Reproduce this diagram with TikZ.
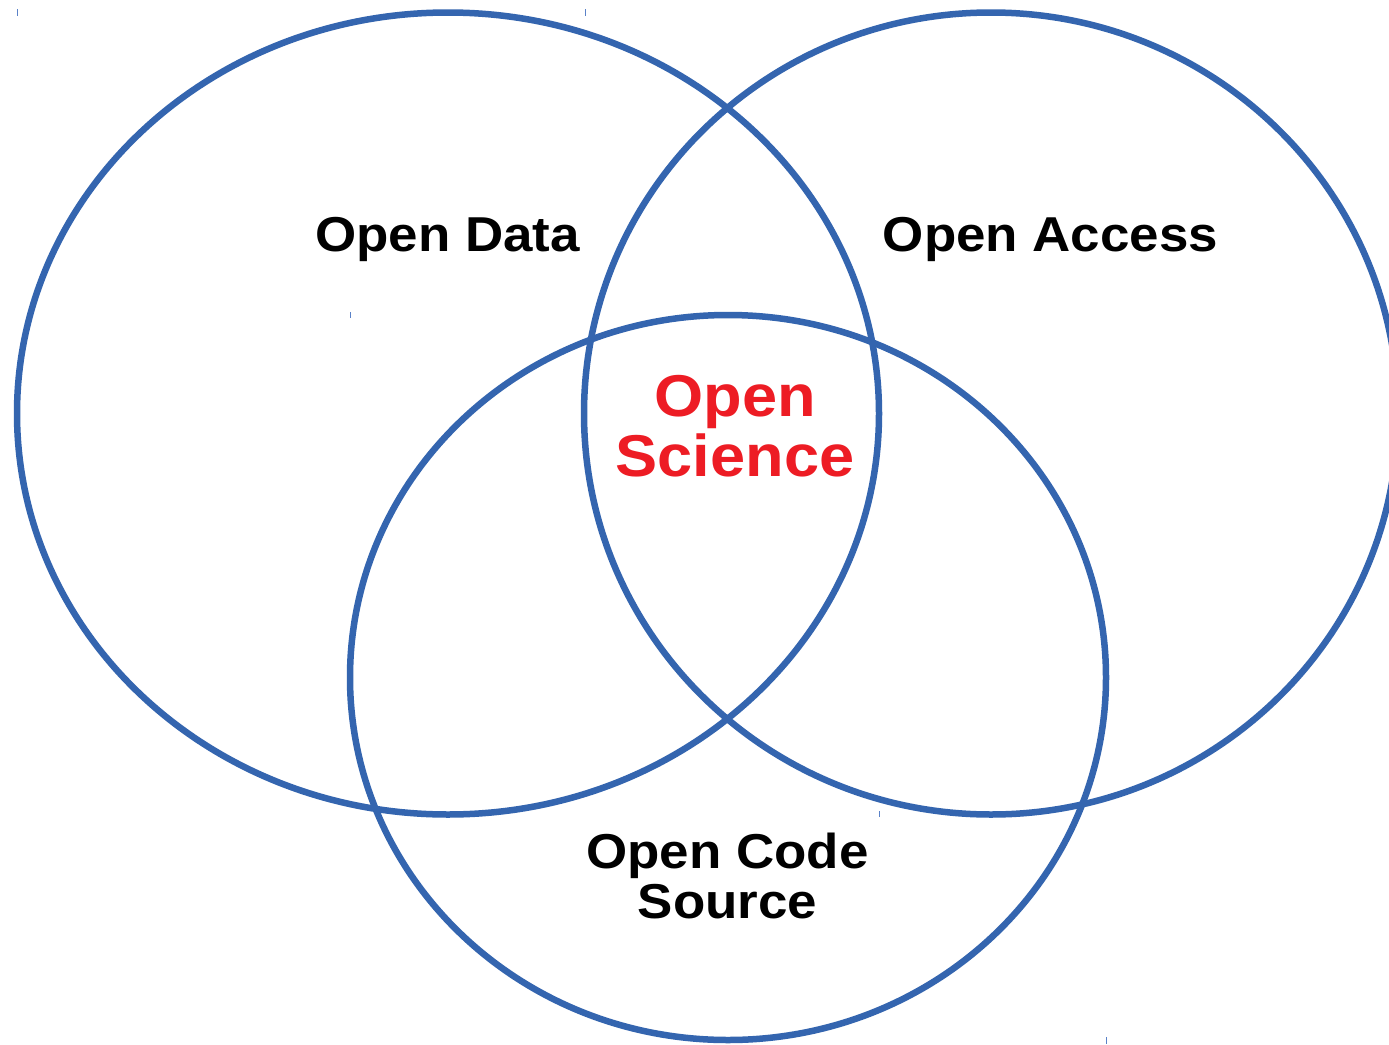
\documentclass[tikz,border=0pt]{standalone}
\usepackage{fontspec}
\setmainfont{Liberation Sans}
\definecolor{ringblue}{RGB}{52,101,175}
\definecolor{tickblue}{RGB}{90,130,200}
\definecolor{osred}{RGB}{237,28,36}
\tikzset{
  ring/.style={draw=ringblue, line width=6.5pt},
  lbl/.style={font=\bfseries\fontsize{49}{50}\selectfont, text=black, inner sep=0pt, align=center, xscale=1.08},
  redlbl/.style={font=\bfseries\fontsize{59}{60}\selectfont, text=osred, inner sep=0pt, align=center, xscale=1.07},
  tickmark/.style={draw=tickblue, line width=1pt}
}
\begin{document}
\begin{tikzpicture}[x=1pt,y=-1pt]
\useasboundingbox (0,0) rectangle (1389,1044);
\clip (0,0) rectangle (1389,1044);
\fill[white] (0,0) rectangle (1389,1044);
% circles
\draw[ring] (448,413.5) ellipse [x radius=431pt, y radius=401pt];
\draw[ring] (991,413.5) ellipse [x radius=407pt, y radius=401pt];
\draw[ring] (728,677.5) ellipse [x radius=378pt, y radius=362.5pt];
% tiny marks
\draw[tickmark] (17,9) -- (17,16);
\draw[tickmark] (585,9) -- (585,16);
\draw[tickmark] (350,312) -- (350,318);
\draw[tickmark] (879,811) -- (879,817);
\draw[tickmark] (1106,1037) -- (1106,1044);
% labels
\node[lbl, anchor=base] (data) at (447.5,251) {Open Data};
\node[lbl, anchor=base] (access) at (1050.5,251) {Open Access};
\node[redlbl, anchor=base] (science) at (735,476) {Open\\Science};
\node[lbl, anchor=base] (code) at (727.5,918) {Open Code\\Source};
\end{tikzpicture}
\end{document}
